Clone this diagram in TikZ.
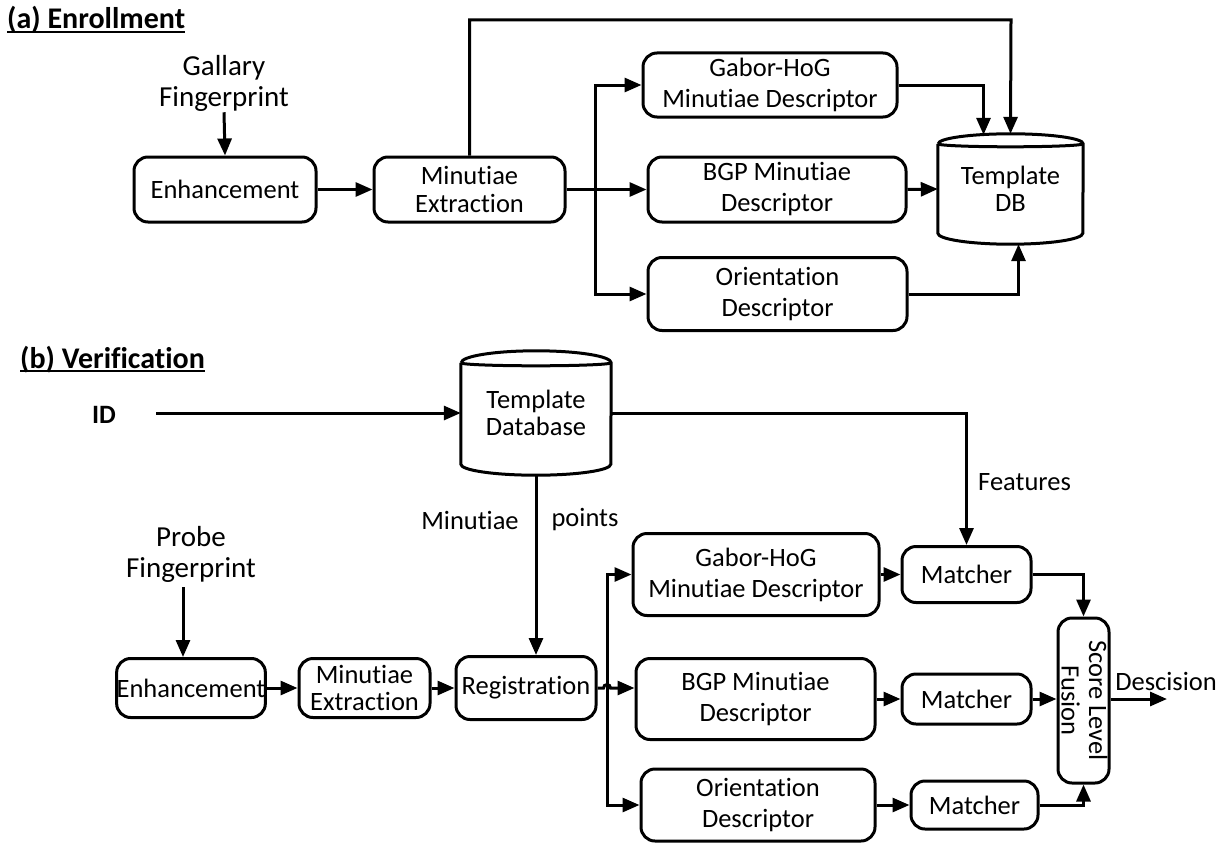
\documentclass[tikz,border=0pt]{standalone}
\usepackage{fontspec}
\setmainfont[Ligatures=NoCommon]{Carlito}
\usetikzlibrary{arrows.meta,calc}
\newcommand\fs{\fontsize{26.5}{31}\selectfont}
\newcommand\fst{\fontsize{26.5}{27.5}\selectfont}
\newcommand\fsb{\fontsize{29}{31}\selectfont}
\newcommand\fstitle{\fontsize{30}{32}\selectfont}
\newcommand\myul[1]{\setbox0\hbox{#1}\rlap{\rule[-4pt]{\wd0}{2pt}}\box0}
\begin{document}
\begin{tikzpicture}[x=1pt,y=-1pt,
  box/.style={draw, line width=3pt, rounded corners=14pt, align=center, inner sep=0pt, font=\fs},
  lbl/.style={align=center, font=\fs, inner sep=1pt},
  ln/.style={line width=3pt},
  arr/.style={line width=3pt, -{Triangle[length=17pt,width=14pt]}},
  title/.style={font=\bfseries\fstitle, anchor=base west, inner sep=0pt}]
\useasboundingbox (0,0) rectangle (1225,843);

% ---------------- (a) Enrollment
\node[title] (ta) at (7,29) {\myul{(a) Enrollment}};
\node[lbl, font=\fsb] (gal) at (224,83) {Gallary\\Fingerprint};
\node[box, minimum width=182, minimum height=65] (enha) at (225,189.5) {Enhancement};
\node[box, font=\fst, minimum width=191, minimum height=65] (mea) at (469.5,189.5) {Minutiae\\Extraction};
\node[box, minimum width=254, minimum height=64] (gha) at (770,85) {Gabor-HoG\\Minutiae Descriptor};
\node[box, minimum width=258, minimum height=65] (bgpa) at (777,189.5) {BGP Minutiae\\Descriptor};
\node[box, minimum width=259, minimum height=73] (ora) at (777.5,294) {Orientation\\Descriptor};
\node[align=center, font=\fst, minimum width=145, minimum height=110, inner sep=0pt] (dba) at (1010.5,189) {Template\\DB};
\draw[ln] ($(dba.north west)+(0,10)$) -- ($(dba.south west)+(0,-11)$)
  arc[start angle=180, end angle=360, x radius=72.5pt, y radius=11pt]
  -- ($(dba.north east)+(0,10)$)
  arc[start angle=0, end angle=180, x radius=72.5pt, y radius=10pt];
\draw[ln] ($(dba.north west)+(0,10)$) arc[start angle=180, end angle=360, x radius=72.5pt, y radius=3pt];

\coordinate (topa) at (1011,20);
\coordinate (spa) at (595,189.5);
\draw[arr] (gal.south) -- (enha.north);
\draw[arr] (enha) -- (mea);
\draw[arr] (mea.north) -- (mea.north |- topa) -- (topa) -- (dba.north);
\draw[ln] (mea.east) -- (spa);
\draw[arr] (spa) |- (gha.west);
\draw[arr] (spa) -- (bgpa.west);
\draw[arr] (spa) |- (ora.west);
\draw[arr] (gha.east) -| ($(dba.north)+(-27,1)$);
\draw[arr] (bgpa.east) -- (dba.west);
\draw[arr] (ora.east) -| ($(dba.south)+(8,0)$);

% ---------------- (b) Verification
\node[title] (tb) at (20,368) {\myul{(b) Verification}};
\node[font=\bfseries\fs] (id) at (104,415) {ID};
\node[align=center, font=\fst, minimum width=150, minimum height=124, inner sep=0pt] (dbb) at (536,413) {Template\\Database};
\draw[ln] ($(dbb.north west)+(0,12)$) -- ($(dbb.south west)+(0,-11)$)
  arc[start angle=180, end angle=360, x radius=75pt, y radius=11pt]
  -- ($(dbb.north east)+(0,12)$)
  arc[start angle=0, end angle=180, x radius=75pt, y radius=12pt];
\draw[ln] ($(dbb.north west)+(0,12)$) arc[start angle=180, end angle=360, x radius=75pt, y radius=3pt];

\node[lbl, font=\fsb] (probe) at (191,554) {Probe\\Fingerprint};
\node[box, minimum width=142, minimum height=59] (enhb) at (191,688) {Enhancement};
\node[box, font=\fst, minimum width=131, minimum height=59] (meb) at (364.5,688) {Minutiae\\Extraction};
\node[box, minimum width=140, minimum height=63] (reg) at (526,688) {Registration};
\node[box, minimum width=246, minimum height=82] (ghb) at (756,574.5) {Gabor-HoG\\Minutiae Descriptor};
\node[box, minimum width=239, minimum height=81] (bgpb) at (755.5,699) {BGP Minutiae\\Descriptor};
\node[box, minimum width=234, minimum height=72] (orb) at (758,805) {Orientation\\Descriptor};
\node[box, minimum width=129, minimum height=56] (m1) at (966.5,574.5) {Matcher};
\node[box, minimum width=129, minimum height=50] (m2) at (966.5,699) {Matcher};
\node[box, minimum width=127, minimum height=48] (m3) at (974.5,805) {Matcher};
\node[box, minimum width=51, minimum height=165] (fus) at (1083.5,700.5) {};
\node[rotate=-90, align=center, font=\fst, inner sep=0pt] (fust) at ($(fus.center)+(1,0)$) {Score Level\\Fusion};

\node[lbl, anchor=west] (feat) at (977,482) {Features};
\node[lbl] (minl) at (470,520) {Minutiae};
\node[lbl] (ptsl) at (585,520) {points};
\node[lbl] (decl) at (1166,681) {Descision};

\coordinate (idst) at (156,413);
\coordinate (spb) at (607,688);
\coordinate (dec) at (1167,699);
\draw[arr] (idst) -- (dbb.west);
\draw[arr] (dbb.east) -| (m1.north);
\draw[arr] (dbb.south) -- (dbb.south |- reg.north);
\draw[arr] ($(enhb.north)+(-8,-70)$) -- ($(enhb.north)+(-8,0)$);
\draw[arr] (enhb) -- (meb);
\draw[arr] (meb) -- (reg);
\draw[arr] (reg.east) -- ($(spb)+(-3.5,0)$) arc[start angle=180, end angle=0, radius=3.5pt] -- (bgpb.west |- spb);
\draw[arr] ($(spb)+(0,-4)$) |- (ghb.west);
\draw[arr] ($(spb)+(0,4)$) |- (orb.west);
\draw[ln] ($(spb)+(0,-4)$) -- ($(spb)+(0,4)$);
\draw[arr] (ghb) -- (m1);
\draw[arr] (bgpb) -- (m2);
\draw[arr] (orb) -- (m3);
\draw[arr] (m1.east) -| (fus.north);
\draw[arr] (m2.east) -- (m2.east -| fus.west);
\draw[arr] (m3.east) -| (fus.south);
\draw[arr] (fus.east |- dec) -- (dec);
\end{tikzpicture}
\end{document}
